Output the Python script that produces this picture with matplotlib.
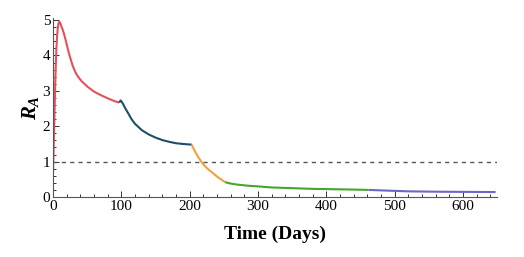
import matplotlib
matplotlib.use("Agg")
import matplotlib.pyplot as plt
from matplotlib.ticker import MultipleLocator

# piecewise R_A curve, one array pair per phase
t_phase1 = [0, 1, 2, 3, 4, 5, 6, 7, 8, 9, 10, 11, 12, 14, 16, 19, 22, 25, 29, 33, 36, 42, 51, 60, 70, 80, 90, 97]
r_phase1 = [0.7, 1.4, 2.2, 3.0, 3.7, 4.2, 4.55, 4.78, 4.9, 4.95, 4.94, 4.9, 4.84, 4.74, 4.62, 4.4, 4.16,
            3.95, 3.7, 3.52, 3.42, 3.27, 3.11, 2.98, 2.88, 2.79, 2.71, 2.67]

t_phase2 = [97, 99, 102, 106, 110, 115, 120, 130, 140, 150, 160, 170, 180, 190, 203]
r_phase2 = [2.67, 2.73, 2.65, 2.5, 2.37, 2.2, 2.07, 1.89, 1.77, 1.68, 1.61, 1.56, 1.52, 1.5, 1.48]

t_phase3 = [203, 207, 212, 217, 222, 228, 235, 242, 252]
r_phase3 = [1.48, 1.32, 1.15, 1.0, 0.88, 0.77, 0.66, 0.55, 0.42]

t_phase4 = [252, 260, 270, 285, 300, 320, 350, 380, 410, 440, 462]
r_phase4 = [0.42, 0.38, 0.35, 0.32, 0.3, 0.27, 0.25, 0.23, 0.22, 0.21, 0.2]

t_phase5 = [462, 490, 520, 560, 600, 648]
r_phase5 = [0.2, 0.18, 0.16, 0.15, 0.145, 0.14]

colors = ["#e5505b", "#1f4f68", "#f4a03a", "#45a52c", "#6a67c6"]
threshold = 1.0

plt.rcParams["font.family"] = "Liberation Serif"
plt.rcParams["mathtext.fontset"] = "custom"
plt.rcParams["mathtext.rm"] = "Liberation Serif"
plt.rcParams["mathtext.it"] = "Liberation Serif:italic:bold"

fig = plt.figure(figsize=(5.24, 2.57), dpi=100)
ax = fig.add_axes([53 / 524, 60 / 257, 444 / 524, 179 / 257])

phases = [(t_phase1, r_phase1), (t_phase2, r_phase2), (t_phase3, r_phase3),
          (t_phase4, r_phase4), (t_phase5, r_phase5)]
for (t, r), c in zip(phases, colors):
    ax.plot(t, r, color=c, lw=1.5, solid_capstyle="butt")

ax.axhline(threshold, color="#555555", lw=1.0, ls=(0, (3, 3)))

ax.set_xlim(0, 650)
ax.set_ylim(0, 5.06)
ax.xaxis.set_major_locator(MultipleLocator(100))
ax.xaxis.set_minor_locator(MultipleLocator(20))
ax.yaxis.set_major_locator(MultipleLocator(1))
ax.yaxis.set_minor_locator(MultipleLocator(0.2))
ax.tick_params(which="both", direction="in", labelsize=11, colors="#333333", labelcolor="black", width=0.7)
ax.tick_params(which="major", length=4)
ax.tick_params(which="minor", length=2)
ax.tick_params(axis="x", pad=2)
ax.tick_params(axis="y", pad=2)

for side in ["top", "right"]:
    ax.spines[side].set_visible(False)
for side in ["left", "bottom"]:
    ax.spines[side].set_color("#555555")
    ax.spines[side].set_linewidth(0.8)

ax.set_xlabel("Time (Days)", fontsize=14, fontweight="bold", labelpad=9)
ax.set_ylabel("$R_A$", fontsize=15, labelpad=1)

fig.savefig("out.png", dpi=100)
